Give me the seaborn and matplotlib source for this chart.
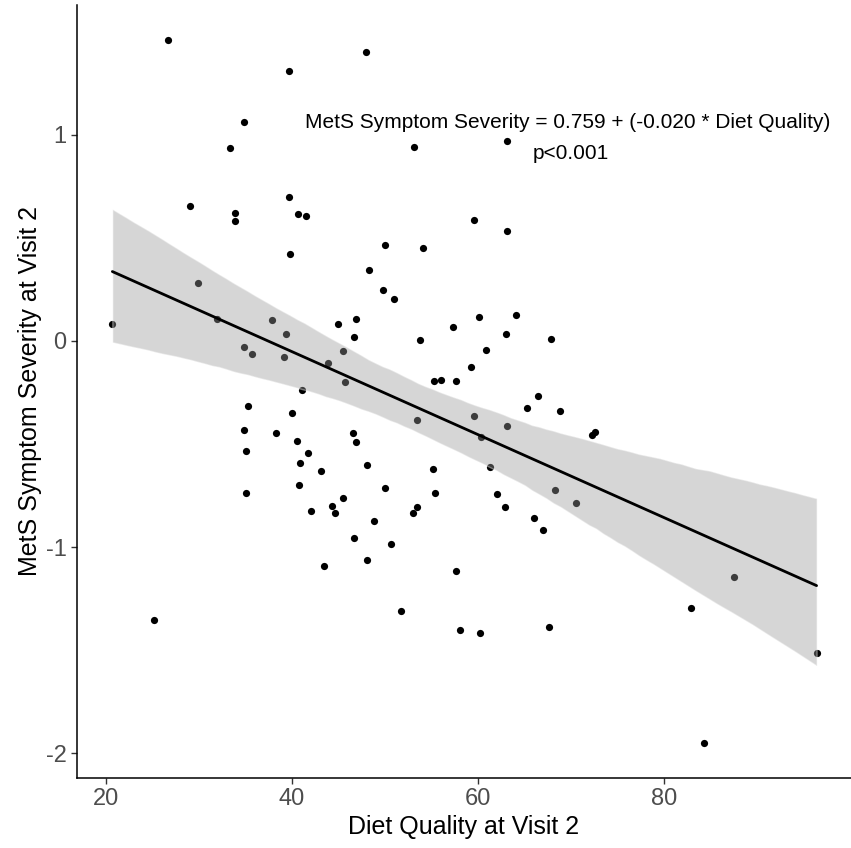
import numpy as np
import pandas as pd
import matplotlib
matplotlib.use("Agg")
import matplotlib.pyplot as plt
import seaborn as sns

# Diet quality vs MetS severity at visit 2
diet_quality = [
    26.7, 39.7, 34.8, 33.4, 29.0, 33.9, 33.9, 39.7, 40.7, 41.5,
    39.8, 48.0, 53.1, 63.1, 59.6, 63.1, 50.0, 54.1, 48.3, 20.7,
    29.9, 32.0, 37.9, 39.4, 34.8, 35.7, 39.1, 43.9, 41.1, 35.3,
    40.0, 34.8, 38.3, 40.6, 41.7, 35.1, 40.9, 43.1, 40.8, 35.1,
    42.0, 49.8, 51.0, 45.0, 46.9, 46.7, 53.8, 57.3, 60.1, 64.1,
    63.0, 60.9, 67.9, 59.2, 55.3, 56.0, 57.6, 45.5, 45.7, 66.5,
    65.3, 68.8, 53.5, 59.6, 63.1, 60.3, 72.3, 72.6, 46.6, 46.9,
    48.1, 55.2, 61.3, 50.0, 55.4, 45.5, 44.3, 44.6, 53.5, 53.0,
    62.1, 62.9, 68.3, 70.5, 66.0, 67.0, 48.8, 46.7, 50.6, 48.1,
    43.4, 57.6, 51.7, 58.1, 60.2, 67.6, 25.2, 87.5, 82.9, 96.4,
    84.3,
]
mets_severity = [
    1.46, 1.31, 1.06, 0.934, 0.656, 0.622, 0.58, 0.698, 0.616, 0.606,
    0.42, 1.404, 0.939, 0.968, 0.586, 0.533, 0.468, 0.449, 0.344, 0.083,
    0.283, 0.108, 0.103, 0.035, -0.028, -0.064, -0.079, -0.109, -0.237, -0.313,
    -0.349, -0.431, -0.446, -0.486, -0.541, -0.535, -0.59, -0.632, -0.701, -0.735,
    -0.826, 0.247, 0.206, 0.082, 0.109, 0.018, 0.006, 0.067, 0.116, 0.124,
    0.033, -0.043, 0.012, -0.125, -0.195, -0.188, -0.195, -0.049, -0.201, -0.265,
    -0.326, -0.341, -0.383, -0.362, -0.41, -0.467, -0.454, -0.443, -0.444, -0.488,
    -0.603, -0.619, -0.613, -0.714, -0.735, -0.763, -0.799, -0.833, -0.805, -0.833,
    -0.742, -0.805, -0.721, -0.784, -0.86, -0.915, -0.875, -0.957, -0.984, -1.062,
    -1.09, -1.117, -1.312, -1.40, -1.417, -1.387, -1.352, -1.145, -1.297, -1.512,
    -1.949,
]

x_ticks = [20, 40, 60, 80]
y_ticks = [-2, -1, 0, 1]
equation_text = "MetS Symptom Severity = 0.759 + (-0.020 * Diet Quality)"
p_text = "p<0.001"

df = pd.DataFrame({"diet": diet_quality, "mets": mets_severity})

sns.set_theme(style="ticks")
plt.rcParams["font.family"] = ["Liberation Sans", "DejaVu Sans"]
plt.rcParams["axes.unicode_minus"] = False

fig = plt.figure(figsize=(8.51, 8.48), dpi=100)
ax = fig.add_axes([77 / 851, 70 / 848, 774 / 851, 773 / 848])

sns.regplot(data=df, x="diet", y="mets", ax=ax, ci=95, n_boot=1000, seed=1,
            color="black",
            scatter_kws={"s": 27, "linewidths": 0, "alpha": 1},
            line_kws={"linewidth": 2})

# ggplot-like grey band drawn over the points
band = ax.collections[-1]
band.set_facecolor("#999999")
band.set_alpha(0.4)

ax.set_xlim(16.9, 100.1)
ax.set_ylim(-2.12, 1.63)
ax.set_xticks(x_ticks)
ax.set_yticks(y_ticks)

ax.text(69.6, 1.06, equation_text, ha="center", va="center", fontsize=15, color="black")
ax.text(70.0, 0.91, p_text, ha="center", va="center", fontsize=15, color="black")

ax.set_xlabel("Diet Quality at Visit 2", fontsize=18, color="black", labelpad=3)
ax.set_ylabel("MetS Symptom Severity at Visit 2", fontsize=18, color="black", labelpad=3)
ax.tick_params(axis="both", labelsize=17, labelcolor="#4D4D4D", color="#333333",
               length=4, width=1)
for side in ["top", "right"]:
    ax.spines[side].set_visible(False)
for side in ["left", "bottom"]:
    ax.spines[side].set_color("black")
    ax.spines[side].set_linewidth(1.1)

fig.savefig("out.png", dpi=100, facecolor="white")
